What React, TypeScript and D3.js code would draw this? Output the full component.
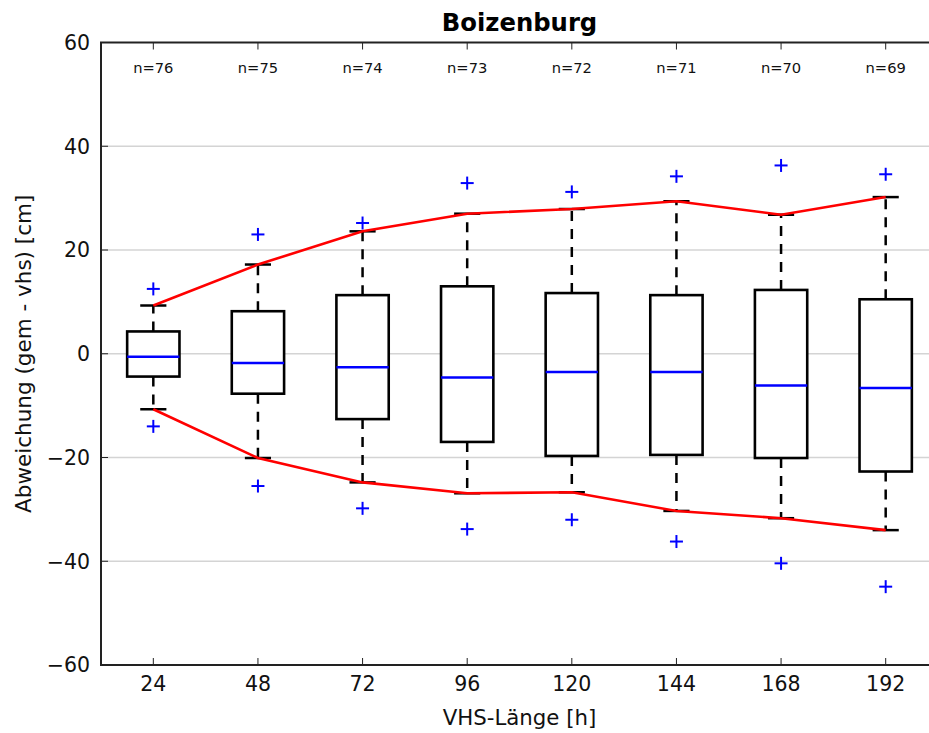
import React from "react";
import * as d3 from "d3";

const lengths = [24, 48, 72, 96, 120, 144, 168, 192];
const counts = [76, 75, 74, 73, 72, 71, 70, 69];
const whiskerHigh = [9.3, 17.2, 23.6, 27.0, 27.9, 29.4, 26.8, 30.2];
const q3 = [4.3, 8.2, 11.3, 13.0, 11.7, 11.3, 12.3, 10.5];
const median = [-0.6, -1.8, -2.6, -4.6, -3.5, -3.5, -6.1, -6.6];
const q1 = [-4.4, -7.7, -12.6, -17.0, -19.7, -19.5, -20.1, -22.7];
const whiskerLow = [-10.7, -20.1, -24.8, -26.9, -26.7, -30.3, -31.7, -34.0];
const outlierHigh = [12.5, 23.0, 25.2, 32.9, 31.2, 34.2, 36.3, 34.6];
const outlierLow = [-14.0, -25.5, -29.8, -33.8, -32.0, -36.2, -40.4, -44.9];
const yTicks = [-60, -40, -20, 0, 20, 40, 60];
const gridTicks = [-40, -20, 0, 20, 40];

const W = 929;
const H = 733;
const left = 101;
const right = 938;
const top = 42.5;
const bottom = 665;

export default function App() {
  const x = d3.scaleLinear().domain([0.5, lengths.length + 0.5]).range([left, right]);
  const y = d3.scaleLinear().domain([-60, 60]).range([bottom, top]);
  const boxW = x(1.25) - x(1);
  const capW = x(1.125) - x(1);
  const font = "'DejaVu Sans', sans-serif";
  const line = d3
    .line<[number, number]>()
    .x((d) => d[0])
    .y((d) => d[1]);
  const upper = line(whiskerHigh.map((v, i) => [x(i + 1), y(v)]));
  const lower = line(whiskerLow.map((v, i) => [x(i + 1), y(v)]));
  const cx = (left + right) / 2;
  const cy = (top + bottom) / 2;
  const plus = (px: number, py: number, key: string) => (
    <g key={key} stroke="#0000ff" strokeWidth={2}>
      <line x1={px - 6.5} x2={px + 6.5} y1={py} y2={py} />
      <line x1={px} x2={px} y1={py - 6.5} y2={py + 6.5} />
    </g>
  );
  return (
    <svg
      width={W}
      height={H}
      style={{ position: "absolute", left: 0, top: 0, background: "#fff" }}
      fontFamily={font}
    >
      <rect x={0} y={0} width={W} height={H} fill="#fff" />
      {gridTicks.map((t) => (
        <line key={"g" + t} x1={left} x2={right} y1={y(t)} y2={y(t)} stroke="#d4d4d4" strokeWidth={1.3} />
      ))}
      {lengths.map((l, i) => {
        const px = x(i + 1);
        return (
          <g key={"b" + l}>
            <line x1={px} x2={px} y1={y(q3[i])} y2={y(whiskerHigh[i])} stroke="#000" strokeWidth={2.5} strokeDasharray="10,8" />
            <line x1={px} x2={px} y1={y(q1[i])} y2={y(whiskerLow[i])} stroke="#000" strokeWidth={2.5} strokeDasharray="10,8" />
            <line x1={px - capW} x2={px + capW} y1={y(whiskerHigh[i])} y2={y(whiskerHigh[i])} stroke="#000" strokeWidth={2.5} />
            <line x1={px - capW} x2={px + capW} y1={y(whiskerLow[i])} y2={y(whiskerLow[i])} stroke="#000" strokeWidth={2.5} />
            <rect
              x={px - boxW}
              y={y(q3[i])}
              width={boxW * 2}
              height={y(q1[i]) - y(q3[i])}
              fill="#fff"
              stroke="#000"
              strokeWidth={2.6}
            />
            <line x1={px - boxW} x2={px + boxW} y1={y(median[i])} y2={y(median[i])} stroke="#0000ff" strokeWidth={2.5} />
            {plus(px, y(outlierHigh[i]), "oh" + i)}
            {plus(px, y(outlierLow[i]), "ol" + i)}
            <text x={px} y={72.5} fontSize={14.7} textAnchor="middle" fill="#111">
              {"n=" + counts[i]}
            </text>
          </g>
        );
      })}
      <path d={upper || ""} fill="none" stroke="#ff0000" strokeWidth={2.6} />
      <path d={lower || ""} fill="none" stroke="#ff0000" strokeWidth={2.6} />
      {lengths.map((l, i) => (
        <g key={"t" + l} stroke="#222" strokeWidth={1}>
          <line x1={x(i + 1)} x2={x(i + 1)} y1={bottom} y2={bottom - 7} />
          <line x1={x(i + 1)} x2={x(i + 1)} y1={top} y2={top + 7} />
        </g>
      ))}
      {yTicks.map((t) => (
        <g key={"yt" + t} stroke="#222" strokeWidth={1}>
          <line x1={left} x2={left + 7} y1={y(t)} y2={y(t)} />
          <line x1={right} x2={right - 7} y1={y(t)} y2={y(t)} />
        </g>
      ))}
      <rect x={left} y={top} width={right - left} height={bottom - top} fill="none" stroke="#222" strokeWidth={2} />
      {yTicks.map((t) => (
        <text key={"yl" + t} x={90} y={y(t)} dy="0.36em" fontSize={20.5} textAnchor="end" fill="#111">
          {t < 0 ? "\u2212" + Math.abs(t) : String(t)}
        </text>
      ))}
      {lengths.map((l, i) => (
        <text key={"xl" + l} x={x(i + 1)} y={691} fontSize={20.5} textAnchor="middle" fill="#111">
          {String(l)}
        </text>
      ))}
      <text x={cx} y={31} fontSize={24.3} fontWeight="bold" textAnchor="middle" fill="#000">
        Boizenburg
      </text>
      <text x={cx} y={725} fontSize={21.3} textAnchor="middle" fill="#111">
        VHS-Länge [h]
      </text>
      <text
        transform={`translate(31,${cy}) rotate(-90)`}
        fontSize={21.5}
        textAnchor="middle"
        fill="#111"
      >
        Abweichung (gem - vhs) [cm]
      </text>
    </svg>
  );
}
